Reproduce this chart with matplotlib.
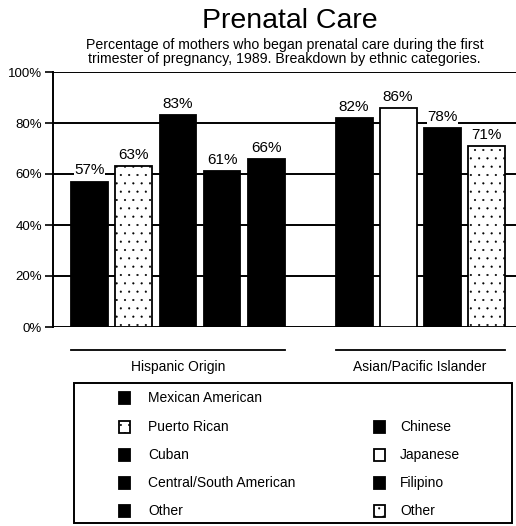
import matplotlib
matplotlib.use("Agg")
import matplotlib.pyplot as plt
import matplotlib.transforms as mtransforms
from matplotlib.patches import Rectangle

plt.rcParams["font.family"] = ["Liberation Sans", "DejaVu Sans"]
plt.rcParams["hatch.linewidth"] = 0.3

# data
hispanic = ["Mexican American", "Puerto Rican", "Cuban", "Central/South American", "Other"]
hispanic_vals = [57, 63, 83, 61, 66]
asian = ["Chinese", "Japanese", "Filipino", "Other"]
asian_vals = [82, 86, 78, 71]
groups = ["Hispanic Origin", "Asian/Pacific Islander"]
yticks = [0, 20, 40, 60, 80, 100]

# fill styles: 'k' black, 'w' white, 'd' dotted white
hisp_style = ["k", "d", "k", "k", "k"]
asian_style = ["k", "w", "k", "d"]


def style_kw(s):
    if s == "k":
        return dict(facecolor="black", edgecolor="black")
    if s == "w":
        return dict(facecolor="white", edgecolor="black")
    return dict(facecolor="white", edgecolor="black", hatch="..")


fig = plt.figure(figsize=(5.16, 5.26), dpi=100)
ax = fig.add_axes([53 / 516, 1 - 327 / 526, 463 / 516, 255 / 526])

hx = list(range(len(hispanic)))
ax_ = list(range(len(hispanic) + 1, len(hispanic) + 1 + len(asian)))
width = 0.84

for x, v, s in zip(hx + ax_, hispanic_vals + asian_vals, hisp_style + asian_style):
    ax.bar(x, v, width=width, linewidth=1.3, zorder=3, **style_kw(s))
    ax.annotate(f"{v}%", (x, v), xytext=(0, 3), textcoords="offset points",
                ha="center", va="bottom", fontsize=11, zorder=4,
                bbox=dict(facecolor="white", edgecolor="none", pad=0.2))

ax.set_xlim(-0.84, 9.68)
ax.set_ylim(0, 100)
ax.set_yticks(yticks)
ax.set_yticklabels([f"{t}%" for t in yticks], fontsize=9.5)
ax.set_xticks([])
for t in yticks:
    ax.axhline(t, color="black", linewidth=1.4, zorder=1)
for side in ["top", "right", "bottom"]:
    ax.spines[side].set_visible(False)
ax.spines["left"].set_linewidth(1.4)
ax.tick_params(axis="y", length=6, width=1.2, pad=2)

# group lines and labels below the axis
trans = mtransforms.blended_transform_factory(ax.transData, ax.transAxes)
for name, xs in zip(groups, [hx, ax_]):
    x0, x1 = xs[0] - width / 2, xs[-1] + width / 2
    ax.plot([x0, x1], [-0.09, -0.09], color="black", linewidth=1.3,
            transform=trans, clip_on=False)
    ax.text((x0 + x1) / 2, -0.13, name, transform=trans, ha="center",
            va="top", fontsize=10)

fig.text(0.562, 0.961, "Prenatal Care", ha="center", va="center", fontsize=20.5)
fig.text(0.551, 0.902,
         "Percentage of mothers who began prenatal care during the first\n"
         "trimester of pregnancy, 1989. Breakdown by ethnic categories.",
         ha="center", va="center", fontsize=10.2, linespacing=1.0)

# legend box (pixel layout)
lax = fig.add_axes([0, 0, 1, 1])
lax.set_xlim(0, 516)
lax.set_ylim(526, 0)
lax.axis("off")
lax.add_patch(Rectangle((74, 383), 438, 140, facecolor="none",
                        edgecolor="black", linewidth=1.4))
row_y = [398, 427, 455, 483, 511]
for i, (name, s) in enumerate(zip(hispanic, hisp_style)):
    lax.add_patch(Rectangle((119, row_y[i] - 6), 11, 12, linewidth=1.3, **style_kw(s)))
    lax.text(148, row_y[i], name, va="center", fontsize=10)
for i, (name, s) in enumerate(zip(asian, asian_style)):
    y = row_y[i + 1]
    lax.add_patch(Rectangle((374, y - 6), 11, 12, linewidth=1.3, **style_kw(s)))
    lax.text(400, y, name, va="center", fontsize=10)

fig.savefig("out.png", dpi=100)
